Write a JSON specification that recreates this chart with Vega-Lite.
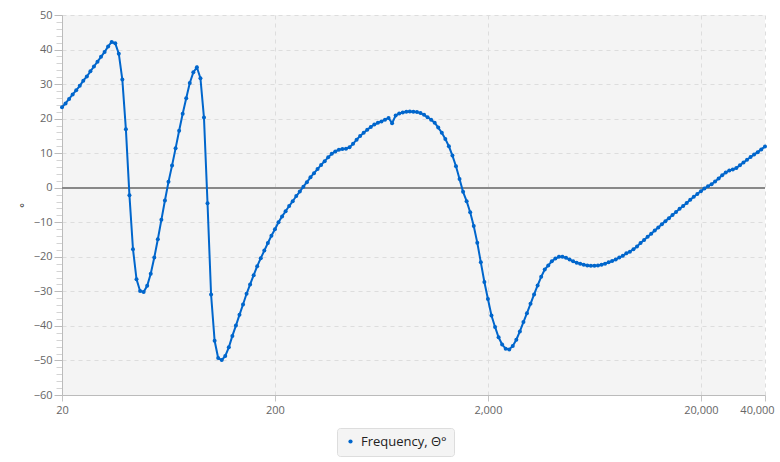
{
  "$schema": "https://vega.github.io/schema/vega-lite/v6.json",
  "width": 703,
  "height": 380,
  "autosize": {"type": "none"},
  "padding": {"left": 62, "top": 15, "right": 15, "bottom": 67},
  "background": "white",
  "config": {
    "font": "Open Sans",
    "view": {"stroke": null, "fill": "#f4f4f4"},
    "axis": {"labelFont": "Open Sans", "labelFontSize": 11, "labelColor": "#666666", "domainColor": "#bbbbbb", "tickColor": "#c4c4c4", "gridColor": "#dddddd", "gridDash": [4, 4]}
  },
  "data": {
    "values": [
      {"f": 20, "v": 23.3}, {"f": 20.78, "v": 24.4}, {"f": 21.6, "v": 25.7}, {"f": 22.44, "v": 27.0}, {"f": 23.32, "v": 28.2},
      {"f": 24.23, "v": 29.5}, {"f": 25.18, "v": 31.0}, {"f": 26.16, "v": 32.2}, {"f": 27.19, "v": 33.7}, {"f": 28.25, "v": 35.1},
      {"f": 29.36, "v": 36.5}, {"f": 30.5, "v": 37.9}, {"f": 31.7, "v": 39.3}, {"f": 32.94, "v": 40.9}, {"f": 34.23, "v": 42.2},
      {"f": 35.57, "v": 41.8}, {"f": 36.96, "v": 38.8}, {"f": 38.4, "v": 31.3}, {"f": 39.91, "v": 16.9}, {"f": 41.47, "v": -2.2},
      {"f": 43.09, "v": -17.8}, {"f": 44.77, "v": -26.5}, {"f": 46.53, "v": -29.9}, {"f": 48.35, "v": -30.2}, {"f": 50.24, "v": -28.4},
      {"f": 52.2, "v": -24.9}, {"f": 54.25, "v": -20.2}, {"f": 56.37, "v": -14.9}, {"f": 58.57, "v": -9.3}, {"f": 60.86, "v": -3.7},
      {"f": 63.25, "v": 1.7}, {"f": 65.72, "v": 6.4}, {"f": 68.29, "v": 11.4}, {"f": 70.96, "v": 16.5}, {"f": 73.74, "v": 21.4},
      {"f": 76.62, "v": 25.9}, {"f": 79.62, "v": 30.3}, {"f": 82.74, "v": 33.4}, {"f": 85.97, "v": 34.9}, {"f": 89.34, "v": 31.7},
      {"f": 92.83, "v": 20.3}, {"f": 96.46, "v": -4.5}, {"f": 100.24, "v": -30.9}, {"f": 104.16, "v": -44.3}, {"f": 108.23, "v": -49.3},
      {"f": 112.47, "v": -49.9}, {"f": 116.87, "v": -48.7}, {"f": 121.44, "v": -46.2}, {"f": 126.19, "v": -42.9}, {"f": 131.13, "v": -39.9},
      {"f": 136.26, "v": -36.8}, {"f": 141.59, "v": -33.8}, {"f": 147.13, "v": -30.7}, {"f": 152.88, "v": -28.0}, {"f": 158.87, "v": -25.3},
      {"f": 165.08, "v": -22.7}, {"f": 171.54, "v": -20.4}, {"f": 178.25, "v": -18.2}, {"f": 185.22, "v": -16.0}, {"f": 192.47, "v": -13.9},
      {"f": 200, "v": -12.0}, {"f": 207.8, "v": -10.0}, {"f": 216.0, "v": -8.3}, {"f": 224.4, "v": -6.8}, {"f": 233.2, "v": -5.3},
      {"f": 242.3, "v": -3.9}, {"f": 251.8, "v": -2.4}, {"f": 261.6, "v": -1.1}, {"f": 271.9, "v": 0.3}, {"f": 282.5, "v": 1.6},
      {"f": 293.6, "v": 3.0}, {"f": 305.0, "v": 4.2}, {"f": 317.0, "v": 5.4}, {"f": 329.4, "v": 6.6}, {"f": 342.3, "v": 7.7},
      {"f": 355.7, "v": 8.8}, {"f": 369.6, "v": 9.8}, {"f": 384.0, "v": 10.5}, {"f": 399.1, "v": 11.0}, {"f": 414.7, "v": 11.2},
      {"f": 430.9, "v": 11.3}, {"f": 447.7, "v": 11.7}, {"f": 465.3, "v": 12.7}, {"f": 483.5, "v": 13.9}, {"f": 502.4, "v": 15.0},
      {"f": 522.0, "v": 15.9}, {"f": 542.5, "v": 16.8}, {"f": 563.7, "v": 17.6}, {"f": 585.7, "v": 18.3}, {"f": 608.6, "v": 18.8},
      {"f": 632.5, "v": 19.2}, {"f": 657.2, "v": 19.7}, {"f": 682.9, "v": 20.2}, {"f": 709.6, "v": 18.7}, {"f": 737.4, "v": 20.9},
      {"f": 766.2, "v": 21.5}, {"f": 796.2, "v": 21.8}, {"f": 827.4, "v": 22.0}, {"f": 859.7, "v": 22.1}, {"f": 893.4, "v": 22.0},
      {"f": 928.3, "v": 21.9}, {"f": 964.6, "v": 21.6}, {"f": 1002.4, "v": 21.1}, {"f": 1041.6, "v": 20.4}, {"f": 1082.3, "v": 19.7},
      {"f": 1124.7, "v": 18.8}, {"f": 1168.7, "v": 17.4}, {"f": 1214.4, "v": 15.9}, {"f": 1261.9, "v": 14.1}, {"f": 1311.3, "v": 12.0},
      {"f": 1362.6, "v": 9.3}, {"f": 1415.9, "v": 6.2}, {"f": 1471.3, "v": 2.5}, {"f": 1528.8, "v": -1.2}, {"f": 1588.7, "v": -3.9},
      {"f": 1650.8, "v": -7.1}, {"f": 1715.4, "v": -11.1}, {"f": 1782.5, "v": -15.9}, {"f": 1852.2, "v": -21.6}, {"f": 1924.7, "v": -27.3},
      {"f": 2000, "v": -32.2}, {"f": 2078, "v": -37.0}, {"f": 2160, "v": -40.3}, {"f": 2244, "v": -43.3}, {"f": 2332, "v": -45.4},
      {"f": 2423, "v": -46.6}, {"f": 2518, "v": -46.8}, {"f": 2616, "v": -45.8}, {"f": 2719, "v": -44.0}, {"f": 2825, "v": -41.6},
      {"f": 2936, "v": -38.9}, {"f": 3050, "v": -36.3}, {"f": 3170, "v": -33.6}, {"f": 3294, "v": -30.9}, {"f": 3423, "v": -28.3},
      {"f": 3557, "v": -25.8}, {"f": 3696, "v": -23.7}, {"f": 3840, "v": -22.5}, {"f": 3991, "v": -21.3}, {"f": 4147, "v": -20.5},
      {"f": 4309, "v": -20.0}, {"f": 4477, "v": -20.0}, {"f": 4653, "v": -20.3}, {"f": 4835, "v": -20.8}, {"f": 5024, "v": -21.3},
      {"f": 5220, "v": -21.7}, {"f": 5425, "v": -22.0}, {"f": 5637, "v": -22.3}, {"f": 5857, "v": -22.5}, {"f": 6086, "v": -22.6},
      {"f": 6325, "v": -22.6}, {"f": 6572, "v": -22.5}, {"f": 6829, "v": -22.3}, {"f": 7096, "v": -22.0}, {"f": 7374, "v": -21.6},
      {"f": 7662, "v": -21.2}, {"f": 7962, "v": -20.8}, {"f": 8274, "v": -20.2}, {"f": 8597, "v": -19.7}, {"f": 8934, "v": -19.0},
      {"f": 9283, "v": -18.5}, {"f": 9646, "v": -17.8}, {"f": 10024, "v": -17.0}, {"f": 10416, "v": -16.0}, {"f": 10823, "v": -15.1},
      {"f": 11247, "v": -14.2}, {"f": 11687, "v": -13.3}, {"f": 12144, "v": -12.4}, {"f": 12619, "v": -11.5}, {"f": 13113, "v": -10.6},
      {"f": 13626, "v": -9.7}, {"f": 14159, "v": -8.8}, {"f": 14713, "v": -7.9}, {"f": 15288, "v": -7.0}, {"f": 15887, "v": -6.1},
      {"f": 16508, "v": -5.3}, {"f": 17154, "v": -4.4}, {"f": 17825, "v": -3.5}, {"f": 18522, "v": -2.6}, {"f": 19247, "v": -1.8},
      {"f": 20000, "v": -1.0}, {"f": 20782, "v": -0.2}, {"f": 21596, "v": 0.4}, {"f": 22440, "v": 1.0}, {"f": 23318, "v": 1.8},
      {"f": 24231, "v": 2.7}, {"f": 25179, "v": 3.6}, {"f": 26164, "v": 4.4}, {"f": 27187, "v": 5.0}, {"f": 28251, "v": 5.3},
      {"f": 29356, "v": 5.7}, {"f": 30504, "v": 6.5}, {"f": 31698, "v": 7.3}, {"f": 32938, "v": 8.1}, {"f": 34226, "v": 8.9},
      {"f": 35565, "v": 9.6}, {"f": 36956, "v": 10.3}, {"f": 38401, "v": 11.1}, {"f": 40000, "v": 11.9}
    ]
  },
  "encoding": {
    "x": {
      "field": "f", "type": "quantitative",
      "scale": {"type": "log", "domain": [20, 40000], "nice": false},
      "axis": {
        "values": [20, 200, 2000, 20000, 40000], "format": ",", "title": null, "tickSize": 6, "labelPadding": 3, "labelFlush": false, "grid": true,
        "labelOffset": {"condition": {"test": "datum.value === 40000", "value": -8}, "value": 0}
      }
    },
    "y": {
      "field": "v", "type": "quantitative",
      "scale": {"domain": [-60, 50], "nice": false, "zero": false},
      "axis": {
        "values": [-60,-58,-56,-54,-52,-50,-48,-46,-44,-42,-40,-38,-36,-34,-32,-30,-28,-26,-24,-22,-20,-18,-16,-14,-12,-10,-8,-6,-4,-2,0,2,4,6,8,10,12,14,16,18,20,22,24,26,28,30,32,34,36,38,40,42,44,46,48,50],
        "labelExpr": "datum.value % 10 === 0 ? datum.label : ''",
        "tickSize": {"condition": {"test": "datum.value % 10 === 0", "value": 8}, "value": 6},
        "tickColor": {"condition": {"test": "datum.value % 10 === 0", "value": "#bbbbbb"}, "value": "#d4d4d4"},
        "gridOpacity": {"condition": {"test": "datum.value % 10 === 0", "value": 1}, "value": 0},
        "labelPadding": 2,
        "title": "°",
        "titleFontSize": 11,
        "titleFontWeight": "normal",
        "titleColor": "#000000",
        "titlePadding": 4
      }
    }
  },
  "layer": [
    {
      "mark": {"type": "rule", "color": "#888888", "strokeWidth": 1.2},
      "encoding": {"x": {"value": 0}, "x2": {"value": 703}, "y": {"datum": 0}}
    },
    {
      "mark": {"type": "line", "color": "#0066cc", "strokeWidth": 2}
    },
    {
      "mark": {"type": "point", "filled": true, "opacity": 1, "size": 16, "shape": "circle"},
      "encoding": {
        "color": {
          "datum": "Frequency, Θ°",
          "scale": {"range": ["#0066cc"]},
          "legend": {
            "orient": "none", "legendX": 275, "legendY": 413, "title": null,
            "fillColor": "#f4f4f4", "strokeColor": "#dddddd", "cornerRadius": 3, "padding": 7,
            "labelFontSize": 13, "labelColor": "#222222", "labelFont": "Open Sans", "labelOffset": 4,
            "columnPadding": 0, "symbolType": "circle", "symbolSize": 18, "symbolOffset": 0
          }
        }
      }
    }
  ]
}
